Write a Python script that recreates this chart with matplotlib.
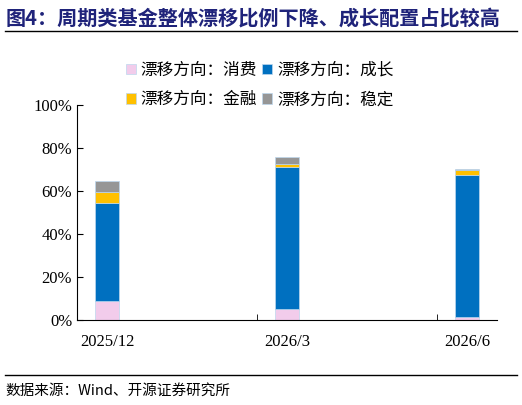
import matplotlib
matplotlib.use("Agg")
import matplotlib.pyplot as plt
from matplotlib.lines import Line2D

plt.rcParams['font.family'] = ['Noto Sans CJK SC', 'DejaVu Sans']

categories = ['2025/12', '2026/3', '2026/6']
consume = [9.0, 5.0, 1.6]
growth = [45.6, 65.9, 65.8]
finance = [5.1, 1.5, 2.1]
stable = [5.1, 3.4, 0.6]
series_names = ['漂移方向：消费', '漂移方向：成长', '漂移方向：金融', '漂移方向：稳定']
colors = ['#F2CCEB', '#0070C0', '#FFC000', '#969696']

fig = plt.figure(figsize=(5.22, 4.05), dpi=100)
ax = fig.add_axes([0.1475, 0.21, 0.8045, 0.531])
x = list(range(len(categories)))
bottom = [0.0] * 3
handles = []
for vals, c, name in zip([consume, growth, finance, stable], colors, series_names):
    b = ax.bar(x, vals, 0.135, bottom=bottom, color=c, edgecolor='#BDD7EE', linewidth=0.5, label=name)
    handles.append(b)
    bottom = [bb + v for bb, v in zip(bottom, vals)]

ax.set_xlim(-0.167, 2.167)
ax.set_ylim(0, 100)
ax.set_yticks(range(0, 101, 20))
ax.set_yticklabels([f'{v}%' for v in range(0, 101, 20)], family='Liberation Serif', fontsize=12)
ax.set_xticks(x)
ax.set_xticklabels(categories, family='Liberation Serif', fontsize=12)
ax.tick_params(axis='x', length=0, pad=10)
ax.set_xticks([0.833, 1.833], minor=True)
ax.tick_params(axis='x', which='minor', length=4, direction='in')
ax.tick_params(axis='y', length=4, direction='in')
for s in ['top', 'right']:
    ax.spines[s].set_visible(False)

order = [0, 2, 1, 3]
fig.legend(handles=[handles[i] for i in order], labels=[series_names[i] for i in order], ncol=2,
           loc='center', bbox_to_anchor=(0.497, 0.79),
           frameon=False, fontsize=12, handlelength=0.6, handleheight=0.6, handletextpad=0.3,
           columnspacing=0.3, labelspacing=0.75)

fig.text(0.01, 0.955, '图4：周期类基金整体漂移比例下降、成长配置占比较高', fontsize=14.5,
         fontweight='bold', color='#1F237A', va='center', ha='left')
fig.add_artist(Line2D([0.01, 0.99], [0.923, 0.923], color='black', lw=1))
fig.add_artist(Line2D([0.01, 0.99], [0.075, 0.075], color='black', lw=1))
fig.text(0.01, 0.035, '数据来源：Wind、开源证券研究所', fontsize=10.5, va='center', ha='left')

fig.savefig('out.png', dpi=100)
